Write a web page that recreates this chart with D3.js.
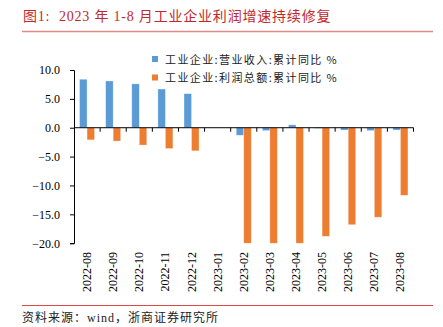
<!DOCTYPE html>
<html>
<head>
<meta charset="utf-8">
<script src="https://cdn.jsdelivr.net/npm/d3@7"></script>
<style>
  body { margin: 0; background: #fff; }
  svg { display: block; }
  text { white-space: pre; }
</style>
</head>
<body>
<svg id="chart" width="443" height="327"></svg>
<script>
const months = ['2022-08','2022-09','2022-10','2022-11','2022-12','2023-01','2023-02',
                '2023-03','2023-04','2023-05','2023-06','2023-07','2023-08']
const revenue = [8.4, 8.1, 7.6, 6.7, 5.9, null, -1.3, -0.5, 0.5, -0.1, -0.4, -0.5, -0.4]
const profit = [-2.1, -2.3, -3.0, -3.6, -4.0, null, -22.9, -21.4, -20.6, -18.8, -16.8, -15.5, -11.7]
const yTicks = [10, 5, 0, -5, -10, -15, -20]
const seriesNames = ['工业企业:营业收入:累计同比 %', '工业企业:利润总额:累计同比 %']
const colors = ['#5B9BD5', '#ED7D31']

const svg = d3.select('#chart')
const serif = '"Liberation Serif", "Times New Roman", serif'
const cjk = '"Noto Sans CJK SC", sans-serif'

// title + rules
svg.append('text')
    .attr('x', 23).attr('y', 21)
    .attr('fill', '#C0282D')
    .attr('font-family', serif + ',' + cjk)
    .attr('font-size', 14)
    .attr('letter-spacing', 0.8)
    .text('图1:  2023 年 1-8 月工业企业利润增速持续修复')
svg.append('line').attr('x1', 22).attr('x2', 433).attr('y1', 31.5).attr('y2', 31.5)
    .attr('stroke', '#E08A8C').attr('stroke-width', 1.5)
svg.append('line').attr('x1', 22).attr('x2', 433).attr('y1', 305.5).attr('y2', 305.5)
    .attr('stroke', '#E04848').attr('stroke-width', 1)
svg.append('text')
    .attr('x', 22).attr('y', 322)
    .attr('fill', '#222')
    .attr('font-family', serif + ',' + cjk)
    .attr('font-size', 12)
    .attr('letter-spacing', 1)
    .text('资料来源：wind，浙商证券研究所')

const x = d3.scaleBand().domain(months).range([74, 413.5])
const y = d3.scaleLinear().domain([-20, 10]).range([243.2, 70])
const clip = v => Math.max(-20, Math.min(10, v))

// y axis
const yAxis = svg.append('g')
    .attr('transform', 'translate(74,0)')
    .call(d3.axisLeft(y).tickValues(yTicks).tickSize(4).tickFormat(d3.format('.1f')))
yAxis.select('.domain').attr('stroke', '#000')
yAxis.selectAll('.tick line').attr('stroke', '#000')
yAxis.selectAll('text')
    .attr('font-family', serif).attr('font-size', 12).attr('fill', '#000')
    .attr('x', -14)

// bars
const bw = 7.5
const data = months.map((m, i) => ({ m, r: revenue[i], p: profit[i] }))
const groups = [
    { key: 'r', off: -bw, color: colors[0] },
    { key: 'p', off: 0, color: colors[1] }
]
groups.forEach(g => {
    svg.append('g')
      .selectAll('rect')
      .data(data.filter(d => d[g.key] !== null))
      .join('rect')
        .attr('x', d => x(d.m) + x.bandwidth() / 2 + g.off)
        .attr('width', bw)
        .attr('y', d => y(Math.max(0, clip(d[g.key]))))
        .attr('height', d => Math.abs(y(clip(d[g.key])) - y(0)))
        .attr('fill', g.color)
        .attr('stroke', 'rgba(255,255,255,0.5)')
        .attr('stroke-width', 0.6)
})

// x axis at zero
const xAxisG = svg.append('g').attr('transform', `translate(0,${y(0)})`)
xAxisG.append('line').attr('x1', 74).attr('x2', 413.5).attr('stroke', '#000')
xAxisG.selectAll('.tk')
    .data(months.map(m => x(m)).concat([x.range()[1]]).slice(1))
    .join('line')
    .attr('x1', d => d).attr('x2', d => d).attr('y1', 0).attr('y2', 4)
    .attr('stroke', '#000')

// rotated month labels
svg.append('g')
  .selectAll('text')
  .data(months)
  .join('text')
    .attr('transform', d => `translate(${x(d) + x.bandwidth() / 2 + 4},252) rotate(-90)`)
    .attr('text-anchor', 'end')
    .attr('font-family', serif)
    .attr('font-size', 12)
    .attr('fill', '#000')
    .text(d => d)

// legend
const legend = svg.append('g')
seriesNames.forEach((name, i) => {
    legend.append('rect')
        .attr('x', 152).attr('y', 56 + i * 18.5).attr('width', 6).attr('height', 6)
        .attr('fill', colors[i])
    legend.append('text')
        .attr('x', 165).attr('y', 63.5 + i * 18.5)
        .attr('font-family', cjk)
        .attr('font-size', 11)
        .attr('letter-spacing', 1.4)
        .attr('fill', '#222')
        .text(name)
})
</script>
</body>
</html>
